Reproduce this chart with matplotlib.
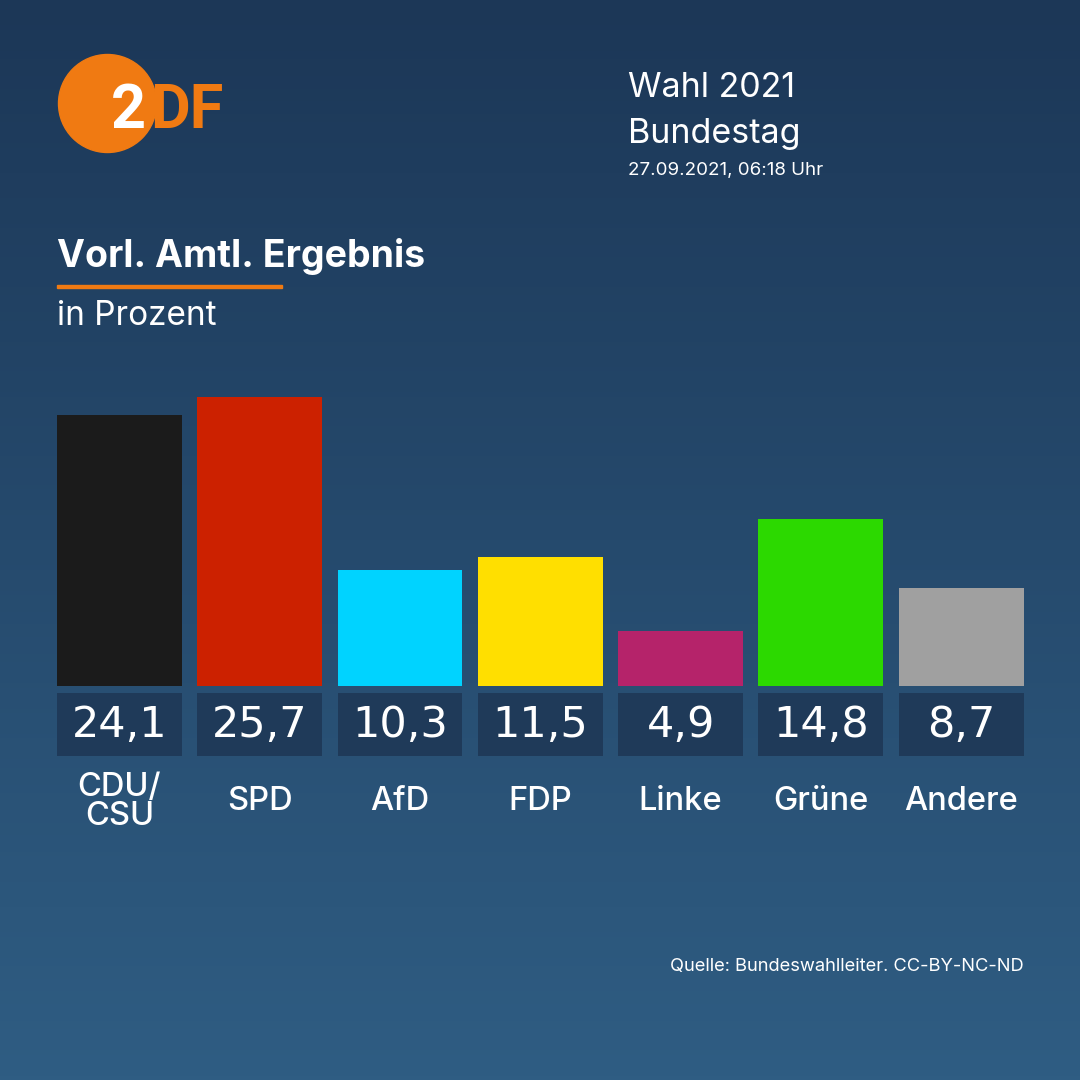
import numpy as np
import matplotlib.pyplot as plt
from matplotlib.colors import LinearSegmentedColormap
from matplotlib.patches import Circle, Rectangle

# -------------------------------
# Data
# -------------------------------
parties = ["CDU/\nCSU", "SPD", "AfD", "FDP", "Linke", "Grüne", "Andere"]
values = [24.1, 25.7, 10.3, 11.5, 4.9, 14.8, 8.7]
colors = ["#1b1b1b", "#cc2100", "#00d3ff", "#ffdf00", "#b5236a", "#2cd900", "#a0a0a0"]

BG_TOP = "#1c3757"
BG_BOTTOM = "#2f5d83"
BOX = "#1f3a59"
ORANGE = "#f07a12"

plt.rcParams["font.family"] = ["Inter", "DejaVu Sans"]

fig = plt.figure(figsize=(10.8, 10.8), dpi=100)

# -------------------------------
# Background (pixel coordinates)
# -------------------------------
bg = fig.add_axes([0, 0, 1, 1])
grad = np.linspace(0, 1, 256).reshape(-1, 1)
cmap = LinearSegmentedColormap.from_list("bg", [BG_TOP, BG_BOTTOM])
bg.imshow(grad, cmap=cmap, aspect="auto", extent=[0, 1080, 1080, 0])
bg.set_xlim(0, 1080)
bg.set_ylim(1080, 0)
bg.axis("off")

# ZDF logo
bg.add_patch(Circle((107.5, 103.5), 49, color=ORANGE, zorder=2))
bg.text(111, 128, "2", color="white", fontsize=44, fontweight="bold",
        family="Roboto", ha="left", va="baseline", zorder=3)
bg.text(150, 128, "DF", color=ORANGE, fontsize=44, fontweight="bold",
        family="Roboto", ha="left", va="baseline", zorder=3)

# header
bg.text(628, 97, "Wahl 2021", color="white", fontsize=24.5, va="baseline")
bg.text(628, 143, "Bundestag", color="white", fontsize=24.5, va="baseline")
bg.text(628, 175, "27.09.2021, 06:18 Uhr", color="white", fontsize=13.5, va="baseline")

# title
bg.text(57, 267, "Vorl. Amtl. Ergebnis", color="white", fontsize=27,
        fontweight="bold", va="baseline")
bg.add_patch(Rectangle((57, 284.5), 225, 3.5, color=ORANGE, zorder=2))
bg.text(57, 325, "in Prozent", color="white", fontsize=24, va="baseline")

# source
bg.text(1024, 971, "Quelle: Bundeswahlleiter. CC-BY-NC-ND", color="white",
        fontsize=13.2, ha="right", va="baseline")

# -------------------------------
# Bars
# -------------------------------
ax = fig.add_axes([49.3 / 1080, 0.219, 982 / 1080, 495 / 1080])
ax.patch.set_alpha(0)
x = np.arange(len(parties))
ax.bar(x, values, width=0.89, color=colors)

# value boxes + labels
ax.bar(x, 5.6, bottom=-6.22, width=0.89, color=BOX)
for xi, v, name in zip(x, values, parties):
    ax.text(xi, -3.45, f"{v:.1f}".replace(".", ","), color="white", fontsize=31,
            family="DejaVu Sans", ha="center", va="center")
    ax.text(xi, -10.3, name, color="white", fontsize=23.5, fontweight="medium",
            ha="center", va="center", linespacing=0.92)

ax.set_xlim(-0.5, 6.5)
ax.set_ylim(-14, 30)
ax.axis("off")

fig.savefig("out.png", dpi=100)
